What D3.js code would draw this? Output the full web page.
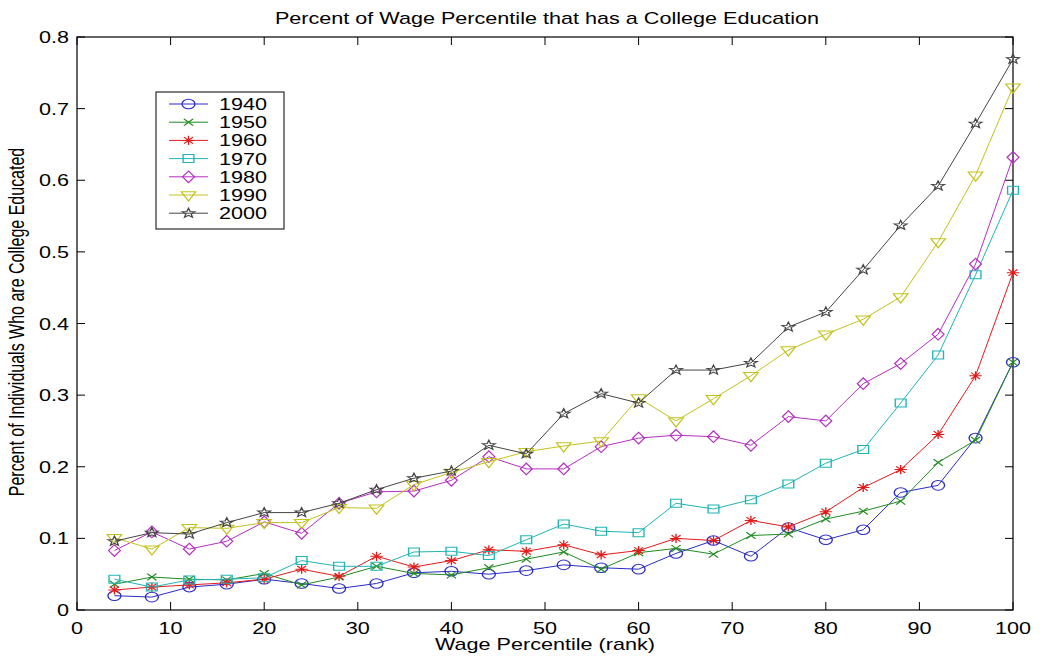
<!DOCTYPE html>
<html>
<head>
    <meta charset="utf-8">
    <script src="https://d3js.org/d3.v7.min.js"></script>
    <style>
        body { margin: 0; background: #fff; }
        text { font-family: Arial, "Liberation Sans", sans-serif; fill: #000; }
    </style>
</head>
<body>
<div id="chart"></div>
<script type="text/javascript">
    // wage percentile (rank) at which each value was sampled
    var pct = [4, 8, 12, 16, 20, 24, 28, 32, 36, 40, 44, 48, 52, 56, 60, 64, 68, 72, 76, 80, 84, 88, 92, 96, 100];

    var years = ["1940", "1950", "1960", "1970", "1980", "1990", "2000"];

    var y1940 = [0.020, 0.018, 0.032, 0.036, 0.043, 0.037, 0.030, 0.037, 0.052, 0.054, 0.050, 0.055, 0.063, 0.059, 0.057, 0.079, 0.097, 0.075, 0.115, 0.098, 0.112, 0.164, 0.174, 0.240, 0.346];
    var y1950 = [0.036, 0.046, 0.043, 0.042, 0.051, 0.035, 0.046, 0.061, 0.051, 0.049, 0.059, 0.071, 0.081, 0.057, 0.080, 0.086, 0.078, 0.104, 0.106, 0.127, 0.138, 0.152, 0.206, 0.237, 0.346];
    var y1960 = [0.028, 0.032, 0.035, 0.038, 0.043, 0.057, 0.047, 0.075, 0.060, 0.069, 0.084, 0.082, 0.091, 0.077, 0.083, 0.100, 0.097, 0.125, 0.116, 0.137, 0.171, 0.196, 0.245, 0.327, 0.471];
    var y1970 = [0.043, 0.032, 0.042, 0.043, 0.045, 0.069, 0.061, 0.061, 0.081, 0.082, 0.076, 0.098, 0.120, 0.110, 0.108, 0.149, 0.141, 0.154, 0.176, 0.205, 0.224, 0.289, 0.356, 0.468, 0.586];
    var y1980 = [0.083, 0.109, 0.085, 0.096, 0.123, 0.107, 0.149, 0.165, 0.166, 0.181, 0.214, 0.197, 0.197, 0.228, 0.240, 0.244, 0.242, 0.230, 0.270, 0.264, 0.316, 0.344, 0.385, 0.483, 0.632];
    var y1990 = [0.101, 0.085, 0.115, 0.114, 0.122, 0.122, 0.143, 0.142, 0.175, 0.192, 0.207, 0.221, 0.229, 0.236, 0.296, 0.264, 0.295, 0.327, 0.363, 0.385, 0.406, 0.437, 0.514, 0.607, 0.730];
    var y2000 = [0.096, 0.108, 0.106, 0.122, 0.136, 0.136, 0.149, 0.168, 0.184, 0.194, 0.230, 0.218, 0.274, 0.302, 0.289, 0.335, 0.335, 0.345, 0.395, 0.416, 0.475, 0.537, 0.592, 0.679, 0.769];

    var xTicks = [0, 10, 20, 30, 40, 50, 60, 70, 80, 90, 100];
    var yTicks = [0, 0.1, 0.2, 0.3, 0.4, 0.5, 0.6, 0.7, 0.8];

    var seriesValues = [y1940, y1950, y1960, y1970, y1980, y1990, y2000];
    var colors = ["#2a2ac8", "#1f8a1f", "#e41a1a", "#1fb5b5", "#b52ec0", "#c2c21c", "#454545"];
    var markers = ["circle", "x", "star", "square", "diamond", "triangle", "pentagram"];

    // the picture is stretched sideways, so text and markers are too
    var SX = 1.35;

    var W = 1043, H = 658;
    var plotLeft = 77, plotRight = 1013, plotTop = 37, plotBottom = 610;

    var svg = d3.select("#chart").append("svg")
        .attr("width", W)
        .attr("height", H);

    var x = d3.scaleLinear().domain([0, 100]).range([plotLeft, plotRight]);
    var y = d3.scaleLinear().domain([0, 0.8]).range([plotBottom, plotTop]);

    // marker outlines, drawn around 0,0 before the sideways stretch
    function markerPath(kind) {
        var p = d3.path();
        if (kind === "circle") {
            p.moveTo(4.8, 0);
            p.arc(0, 0, 4.8, 0, 2 * Math.PI);
        } else if (kind === "x") {
            p.moveTo(-3.4, -3.4); p.lineTo(3.4, 3.4);
            p.moveTo(-3.4, 3.4); p.lineTo(3.4, -3.4);
        } else if (kind === "star") {
            p.moveTo(-4.6, 0); p.lineTo(4.6, 0);
            p.moveTo(0, -4.6); p.lineTo(0, 4.6);
            p.moveTo(-3.3, -3.3); p.lineTo(3.3, 3.3);
            p.moveTo(-3.3, 3.3); p.lineTo(3.3, -3.3);
        } else if (kind === "square") {
            p.rect(-4, -4, 8, 8);
        } else if (kind === "diamond") {
            p.moveTo(0, -5.8); p.lineTo(4.4, 0); p.lineTo(0, 5.8); p.lineTo(-4.4, 0); p.closePath();
        } else if (kind === "triangle") {
            p.moveTo(-5.4, -3.2); p.lineTo(5.4, -3.2); p.lineTo(0, 6); p.closePath();
        } else {
            for (var i = 0; i < 10; i++) {
                var a = -Math.PI / 2 + i * Math.PI / 5;
                var r = i % 2 === 0 ? 5 : 2.1;
                if (i === 0) p.moveTo(r * Math.cos(a), r * Math.sin(a));
                else p.lineTo(r * Math.cos(a), r * Math.sin(a));
            }
            p.closePath();
        }
        return p.toString();
    }

    function stretched(sel, px, py) {
        sel.attr("transform", "translate(" + px + "," + py + ") scale(" + SX + ",1)");
    }

    // plot box
    svg.append("rect")
        .attr("x", plotLeft).attr("y", plotTop)
        .attr("width", plotRight - plotLeft).attr("height", plotBottom - plotTop)
        .attr("fill", "#fff")
        .attr("stroke", "#000")
        .attr("stroke-width", 1.2);

    // ticks on all four sides, pointing inwards
    var tickLen = 8;
    var ticks = svg.append("g").attr("stroke", "#000").attr("stroke-width", 1);
    xTicks.forEach(function (t) {
        ticks.append("line").attr("x1", x(t)).attr("x2", x(t)).attr("y1", plotBottom).attr("y2", plotBottom - tickLen);
        ticks.append("line").attr("x1", x(t)).attr("x2", x(t)).attr("y1", plotTop).attr("y2", plotTop + tickLen);
    });
    yTicks.forEach(function (t) {
        ticks.append("line").attr("x1", plotLeft).attr("x2", plotLeft + tickLen).attr("y1", y(t)).attr("y2", y(t));
        ticks.append("line").attr("x1", plotRight).attr("x2", plotRight - tickLen).attr("y1", y(t)).attr("y2", y(t));
    });

    xTicks.forEach(function (t) {
        svg.append("text")
            .attr("text-anchor", "middle")
            .style("font-size", "16px")
            .text(t)
            .call(stretched, x(t), 634);
    });
    yTicks.forEach(function (t) {
        svg.append("text")
            .attr("text-anchor", "end")
            .style("font-size", "16px")
            .text(t === 0 ? "0" : t.toFixed(1))
            .call(stretched, 69, y(t) + 6);
    });

    // series
    var line = d3.line()
        .x(function (d) { return x(d[0]); })
        .y(function (d) { return y(d[1]); });

    seriesValues.forEach(function (vals, k) {
        var pts = pct.map(function (p, i) { return [p, vals[i]]; });
        var g = svg.append("g");
        g.append("path")
            .attr("d", line(pts))
            .attr("fill", "none")
            .attr("stroke", colors[k])
            .attr("stroke-width", 1);
        g.selectAll("path.mk")
            .data(pts)
            .enter()
            .append("path")
            .attr("class", "mk")
            .attr("d", markerPath(markers[k]))
            .attr("fill", "none")
            .attr("stroke", colors[k])
            .attr("stroke-width", 1)
            .attr("transform", function (d) {
                return "translate(" + x(d[0]) + "," + y(d[1]) + ") scale(" + SX + ",1)";
            });
    });

    // legend
    var lg = svg.append("g");
    lg.append("rect")
        .attr("x", 156).attr("y", 92)
        .attr("width", 128).attr("height", 137)
        .attr("fill", "#fff")
        .attr("stroke", "#000")
        .attr("stroke-width", 1);
    years.forEach(function (yr, k) {
        var ly = 104 + k * 18.2;
        lg.append("line")
            .attr("x1", 169).attr("x2", 208)
            .attr("y1", ly).attr("y2", ly)
            .attr("stroke", colors[k]);
        lg.append("path")
            .attr("d", markerPath(markers[k]))
            .attr("fill", "none")
            .attr("stroke", colors[k])
            .attr("transform", "translate(188.5," + ly + ") scale(" + SX + ",1)");
        lg.append("text")
            .style("font-size", "16px")
            .text(yr)
            .call(stretched, 219, ly + 6);
    });

    // titles
    svg.append("text")
        .attr("text-anchor", "middle")
        .style("font-size", "16px")
        .text("Percent of Wage Percentile that has a College Education")
        .call(stretched, 547, 24);

    svg.append("text")
        .attr("text-anchor", "middle")
        .style("font-size", "16px")
        .text("Wage Percentile (rank)")
        .call(stretched, 545, 650);

    svg.append("text")
        .attr("text-anchor", "middle")
        .style("font-size", "16px")
        .text("Percent of Individuals Who are College Educated")
        .attr("transform", "translate(24,322) scale(" + SX + ",1) rotate(-90)");
</script>
</body>
</html>
